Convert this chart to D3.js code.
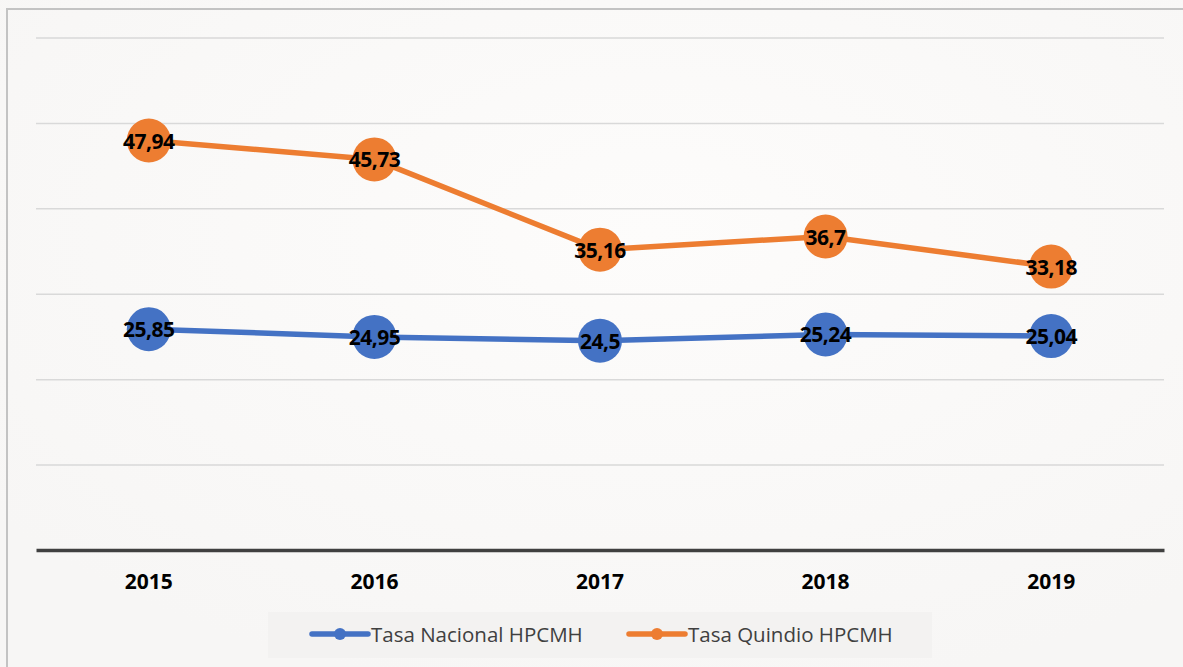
<!DOCTYPE html>
<html>
<head>
<meta charset="utf-8">
<script src="https://cdn.jsdelivr.net/npm/d3@7"></script>
<style>
  html, body { margin: 0; padding: 0; background: #f9f8f7; }
  svg { display: block; }
</style>
</head>
<body>
<svg id="chart" width="1183" height="667"></svg>
<script>
const categories = ["2015", "2016", "2017", "2018", "2019"];
const nacional = [25.85, 24.95, 24.5, 25.24, 25.04];
const quindio = [47.94, 45.73, 35.16, 36.7, 33.18];
const yTicks = [0, 10, 20, 30, 40, 50, 60];
const seriesNames = ["Tasa Nacional HPCMH", "Tasa Quindio HPCMH"];
const seriesColors = ["#4472c4", "#ed7d31"];

(function () {
const series = [
  { name: seriesNames[0], values: nacional, color: seriesColors[0] },
  { name: seriesNames[1], values: quindio, color: seriesColors[1] }
];

const svg = d3.select("#chart");
const W = 1183, H = 667;

// background
const defs = svg.append("defs");
const rg = defs.append("radialGradient").attr("id", "bg").attr("cx", "55%").attr("cy", "35%").attr("r", "70%");
rg.append("stop").attr("offset", "0%").attr("stop-color", "#fdfcfb");
rg.append("stop").attr("offset", "100%").attr("stop-color", "#f7f6f5");
svg.append("rect").attr("width", W).attr("height", H).attr("fill", "url(#bg)");

// outer border (left and top visible)
svg.append("line").attr("x1", 7).attr("x2", 7).attr("y1", 8).attr("y2", H).attr("stroke", "#c3c3c3").attr("stroke-width", 2);
svg.append("line").attr("x1", 7).attr("x2", W).attr("y1", 9).attr("y2", 9).attr("stroke", "#c3c3c3").attr("stroke-width", 2);

const pLeft = 36, pRight = 1164, pTop = 37.5, pBottom = 550;

const x = d3.scaleBand().domain(categories).range([pLeft, pRight]).padding(0);
const y = d3.scaleLinear().domain([0, 60]).range([pBottom, pTop]);
const cx = c => x(c) + x.bandwidth() / 2;

// gridlines
const yAxis = d3.axisLeft(y).tickValues(yTicks.filter(t => t > 0)).tickSize(-(pRight - pLeft)).tickFormat("");
const gy = svg.append("g").attr("transform", `translate(${pLeft},0)`).call(yAxis);
gy.select(".domain").remove();
gy.selectAll(".tick line").attr("stroke", "#d9d9d9").attr("stroke-width", 1.5);

// x axis
const xAxis = d3.axisBottom(x).tickSize(0).tickPadding(0);
const gx = svg.append("g").attr("transform", `translate(0,${pBottom})`).call(xAxis);
gx.select(".domain").attr("stroke", "#404040").attr("stroke-width", 3.5);
gx.selectAll(".tick text")
  .attr("y", 39)
  .attr("dy", 0)
  .attr("font-family", "'Open Sans', sans-serif")
  .attr("font-weight", "bold")
  .attr("font-size", 21)
  .attr("fill", "#000");

// lines
const line = d3.line().x((d, i) => cx(categories[i])).y(d => y(d));
series.forEach(s => {
  svg.append("path").datum(s.values)
    .attr("d", line).attr("fill", "none")
    .attr("stroke", s.color).attr("stroke-width", 5.5)
    .attr("stroke-linejoin", "round").attr("stroke-linecap", "round");
});
series.forEach(s => {
  svg.append("g").selectAll("circle").data(s.values).join("circle")
    .attr("cx", (d, i) => cx(categories[i])).attr("cy", d => y(d))
    .attr("r", 22).attr("fill", s.color);
});
series.forEach(s => {
  svg.append("g").selectAll("text").data(s.values).join("text")
    .attr("x", (d, i) => cx(categories[i]))
    .attr("y", d => y(d) + 8)
    .attr("text-anchor", "middle")
    .attr("font-family", "'Open Sans', sans-serif")
    .attr("font-weight", "bold")
    .attr("font-size", 21)
    .attr("letter-spacing", -0.5)
    .attr("fill", "#000")
    .text(d => String(d).replace(".", ","));
});

// legend
const lg = svg.append("g");
lg.append("rect").attr("x", 268).attr("y", 612).attr("width", 664).attr("height", 46).attr("fill", "#f3f2f1");
const legendX = [312, 629];
series.forEach((s, i) => {
  const g = lg.append("g").attr("transform", `translate(${legendX[i]},634)`);
  g.append("line").attr("x1", 0).attr("x2", 56).attr("y1", 0).attr("y2", 0)
    .attr("stroke", s.color).attr("stroke-width", 5.5).attr("stroke-linecap", "round");
  g.append("circle").attr("cx", 28).attr("cy", 0).attr("r", 6).attr("fill", s.color);
  g.append("text").attr("x", 59).attr("y", 7.5)
    .attr("font-family", "'Open Sans', sans-serif")
    .attr("font-size", 20.5)
    .attr("fill", "#404040")
    .text(s.name);
});
})();
</script>
</body>
</html>
